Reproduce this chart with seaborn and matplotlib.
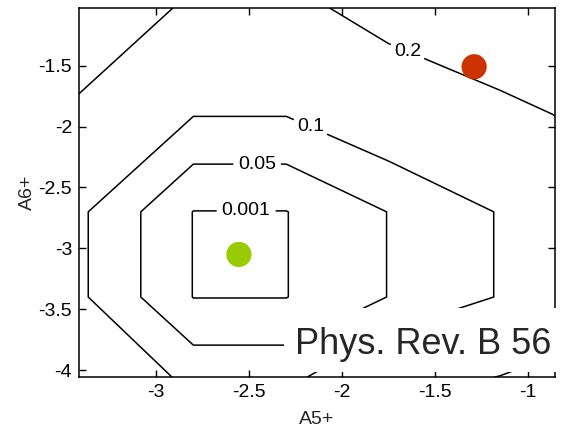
import numpy as np
import seaborn as sns
import matplotlib.pyplot as plt
from matplotlib.patches import Rectangle

# grid nodes (A5+, A6+) and the values
a5_nodes = [-3.45, -2.8, -2.3, -1.75, -1.15, -0.8]
a6_nodes = [-4.06, -3.4, -2.7, -1.9, -1.0]
z_row_m406 = [0.178, 0.0835, 0.0835, 0.166, 0.202, 0.233]
z_row_m34 = [0.115, 0.0, 0.0, 0.051, 0.103, 0.13]
z_row_m27 = [0.115, 0.0, 0.0, 0.051, 0.103, 0.13]
z_row_m19 = [0.183, 0.102, 0.102, 0.145, 0.17, 0.207]
z_row_m10 = [0.309, 0.182, 0.182, 0.23, 0.306, 0.36]

levels = [0.001, 0.05, 0.1, 0.2]
level_text = ["0.001", "0.05", "0.1", "0.2"]
label_pos = [(-2.516, -2.70), (-2.457, -2.336), (-2.172, -2.008), (-1.645, -1.37)]

dot_x = [-1.29, -2.555]
dot_y = [-1.508, -3.05]
dot_name = ["start", "fit"]
dot_colors = ["#cc3300", "#99cc00"]

xtick_vals = [-3, -2.5, -2, -1.5, -1]
xtick_text = ["-3", "-2.5", "-2", "-1.5", "-1"]
ytick_vals = [-4, -3.5, -3, -2.5, -2, -1.5]
ytick_text = ["-4", "-3.5", "-3", "-2.5", "-2", "-1.5"]

sns.set_style("ticks", {"xtick.direction": "in", "ytick.direction": "in",
                        "axes.edgecolor": "black", "xtick.color": "black",
                        "ytick.color": "black"})
plt.rcParams["font.family"] = ["Liberation Sans", "DejaVu Sans"]
plt.rcParams["axes.unicode_minus"] = False

fig = plt.figure(figsize=(5.63, 4.30), dpi=100)
ax = fig.add_axes([0.1403, 0.1233, 0.8455, 0.8581])

Z = np.array([z_row_m406, z_row_m34, z_row_m27, z_row_m19, z_row_m10])
cs = ax.contour(a5_nodes, a6_nodes, Z, levels=levels, colors="black", linewidths=1.1)
labels = ax.clabel(cs, levels, inline=True, inline_spacing=4,
                   fmt=dict(zip(levels, level_text)), fontsize=14,
                   manual=label_pos)
for t in labels:
    t.set_rotation(0)

sns.scatterplot(x=dot_x, y=dot_y, hue=dot_name, palette=dot_colors, s=330,
                linewidth=0, legend=False, ax=ax, zorder=4)

ax.set_xlim(-3.415, -0.855)
ax.set_ylim(-4.057, -1.025)
ax.set_xticks(xtick_vals)
ax.set_xticklabels(xtick_text)
ax.set_yticks(ytick_vals)
ax.set_yticklabels(ytick_text)
ax.tick_params(top=True, right=True, length=5, width=1, labelsize=14, pad=5)
for sp in ax.spines.values():
    sp.set_linewidth(1.1)

ax.set_xlabel("A5+", fontsize=14)
ax.set_ylabel("A6+", fontsize=14)
ax.xaxis.set_label_coords(0.5, -0.093)
ax.yaxis.set_label_coords(-0.090, 0.5)

# white patch with the citation on top of the lower right corner
fig.patches.append(Rectangle((0.5044, 0.1349), 0.4956, 0.1488, transform=fig.transFigure,
                             facecolor="white", edgecolor="none", zorder=10))
fig.text(0.524, 0.1767, "Phys. Rev. B 56", fontsize=26, va="baseline", ha="left", zorder=11)

fig.savefig("out.png", dpi=100)
